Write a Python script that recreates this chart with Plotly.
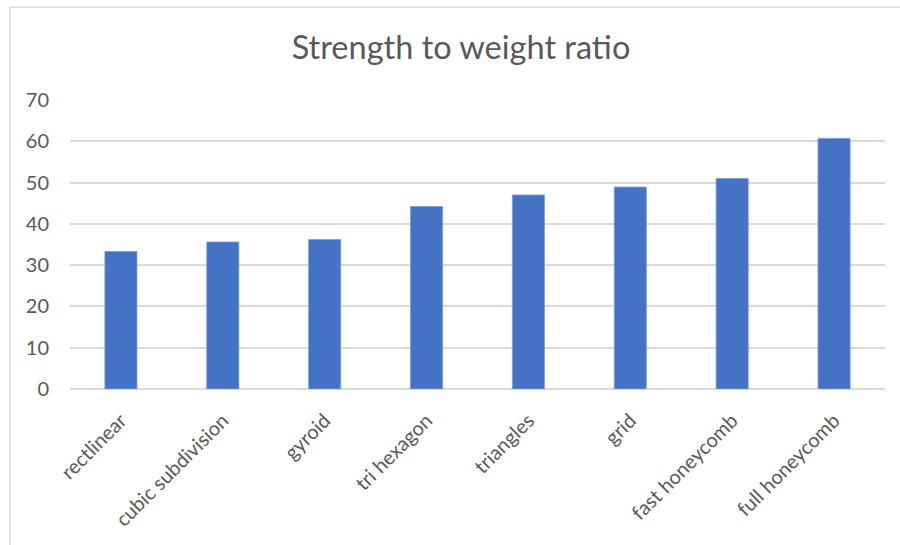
import plotly.graph_objects as go

# Infill patterns and their measured strength-to-weight ratio
patterns = [
    "rectlinear",
    "cubic subdivision",
    "gyroid",
    "tri hexagon",
    "triangles",
    "grid",
    "fast honeycomb",
    "full honeycomb",
]
ratios = [33.3, 35.6, 36.2, 44.2, 47.0, 48.9, 51.0, 60.7]
y_ticks = [0, 10, 20, 30, 40, 50, 60, 70]

W, H = 900, 545
M_L, M_R, M_T, M_B = 69.5, 15, 100, 155.5
TEXT = "#595959"
GRID = "#d9d9d9"
FONT = "Lato, 'Open Sans', sans-serif"

fig = go.Figure(
    go.Bar(
        x=patterns,
        y=ratios,
        marker=dict(color="#4472C4", line=dict(color="#7b9bd6", width=0.8)),
        width=0.315,
    )
)

# chart frame (pixel positions converted to paper coordinates)
pw, ph = W - M_L - M_R, H - M_T - M_B
def px_x(p):
    return (p - M_L) / pw
def px_y(p):
    return (H - M_B - p) / ph

fig.add_shape(
    type="rect", xref="paper", yref="paper", layer="below",
    x0=px_x(9.5), x1=px_x(W + 20), y0=px_y(H + 20), y1=px_y(7),
    line=dict(color=GRID, width=1.5), fillcolor="rgba(0,0,0,0)",
)

fig.update_layout(
    width=W,
    height=H,
    margin=dict(l=M_L, r=M_R, t=M_T, b=M_B, pad=0),
    paper_bgcolor="white",
    plot_bgcolor="white",
    showlegend=False,
    font=dict(family=FONT, color=TEXT, size=20),
    title=dict(
        text="Strength to weight ratio",
        font=dict(family=FONT, color=TEXT, size=32.5),
        x=461 / W, xanchor="center",
        y=1 - 48 / H, yanchor="middle",
        xref="container", yref="container",
    ),
    xaxis=dict(
        tickangle=-45,
        showgrid=False,
        showline=False,
        zeroline=False,
        ticks="",
        tickfont=dict(size=20, color=TEXT),
        ticklabelstandoff=15,
    ),
    yaxis=dict(
        range=[0, 70],
        tickvals=y_ticks,
        showgrid=True,
        gridcolor=GRID,
        gridwidth=1.5,
        zeroline=True,
        zerolinecolor=GRID,
        zerolinewidth=1.5,
        showline=False,
        ticks="",
        tickfont=dict(size=20, color=TEXT),
        ticklabelstandoff=20,
    ),
    bargap=0.68,
)

fig.write_html("out.html")
